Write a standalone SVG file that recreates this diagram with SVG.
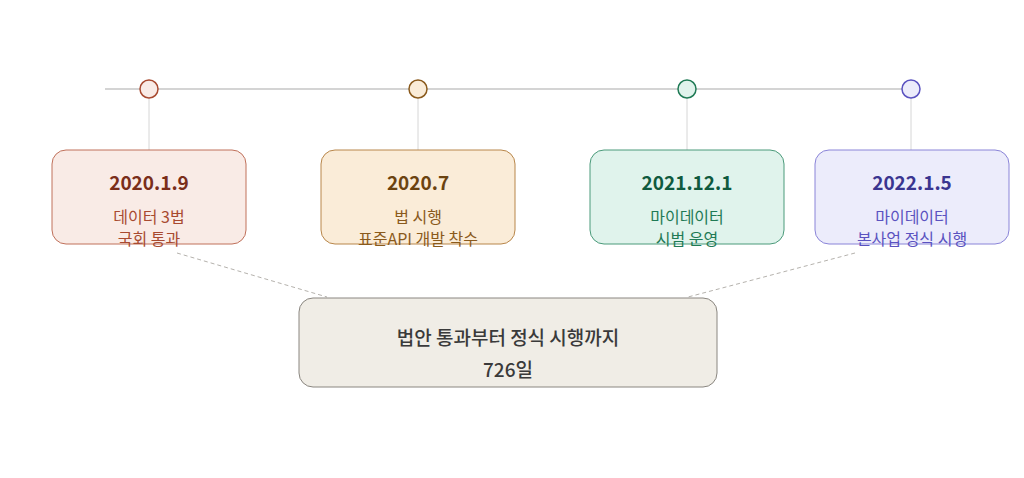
<svg xmlns="http://www.w3.org/2000/svg" width="1024" height="478" viewBox="0 0 1024 478">
<style>
text{font-family:"Noto Sans CJK KR","Noto Sans",sans-serif;text-anchor:middle}
.d{font-size:19px;font-weight:700}
.s{font-size:16px}
.v{stroke:#d6d6d6;stroke-width:1}
.dash{stroke:#b5b2ad;stroke-width:1;stroke-dasharray:4 3;fill:none}
</style>
<rect width="1024" height="478" fill="#ffffff"/>
<g id="connectors">
<line x1="105" y1="89" x2="911" y2="89" stroke="#d4d4d4" stroke-width="2"/>
<line class="v" x1="149" y1="98" x2="149" y2="150"/>
<line class="v" x1="418" y1="98" x2="418" y2="150"/>
<line class="v" x1="687" y1="98" x2="687" y2="150"/>
<line class="v" x1="911" y1="98" x2="911" y2="150"/>
<line class="dash" x1="177" y1="253" x2="327" y2="297"/>
<line class="dash" x1="855" y1="253" x2="688" y2="297"/>
</g>
<g id="dot1"><circle cx="149" cy="89" r="9" fill="#f9ebe6" stroke="#a84a30" stroke-width="1.5"/></g>
<g id="dot2"><circle cx="418" cy="89" r="9" fill="#faecd8" stroke="#8a5a1c" stroke-width="1.5"/></g>
<g id="dot3"><circle cx="687" cy="89" r="9" fill="#e0f3ec" stroke="#1f7a55" stroke-width="1.5"/></g>
<g id="dot4"><circle cx="911" cy="89" r="9" fill="#ececfb" stroke="#5a52c0" stroke-width="1.5"/></g>
<g id="node1">
<rect x="52" y="150" width="194" height="94" rx="14" fill="#f9ebe6" stroke="#c0705a"/>
<text class="d" x="149" y="190" fill="#7a2e1a">2020.1.9</text>
<text class="s" x="149" y="223" fill="#a84a30">데이터 3법</text>
<text class="s" x="149" y="245" fill="#a84a30">국회 통과</text>
</g>
<g id="node2">
<rect x="321" y="150" width="194" height="94" rx="14" fill="#faecd8" stroke="#b8864a"/>
<text class="d" x="418" y="190" fill="#6b4310">2020.7</text>
<text class="s" x="418" y="223" fill="#8a5a1c">법 시행</text>
<text class="s" x="418" y="245" fill="#8a5a1c">표준API 개발 착수</text>
</g>
<g id="node3">
<rect x="590" y="150" width="194" height="94" rx="14" fill="#e0f3ec" stroke="#4a9a7a"/>
<text class="d" x="687" y="190" fill="#0f5a3e">2021.12.1</text>
<text class="s" x="687" y="223" fill="#1f7a55">마이데이터</text>
<text class="s" x="687" y="245" fill="#1f7a55">시범 운영</text>
</g>
<g id="node4">
<rect x="815" y="150" width="194" height="94" rx="14" fill="#ececfb" stroke="#8a84d8"/>
<text class="d" x="912" y="190" fill="#3a3590">2022.1.5</text>
<text class="s" x="912" y="223" fill="#5a52c0">마이데이터</text>
<text class="s" x="912" y="245" fill="#5a52c0">본사업 정식 시행</text>
</g>
<g id="summary">
<rect x="299" y="298" width="418" height="89" rx="14" fill="#f0ede6" stroke="#8a8680"/>
<text x="508" y="345" font-size="19" font-weight="500" fill="#3a3a3a">법안 통과부터 정식 시행까지</text>
<text x="508" y="377" font-size="19" font-weight="500" fill="#3a3a3a">726일</text>
</g>
</svg>
